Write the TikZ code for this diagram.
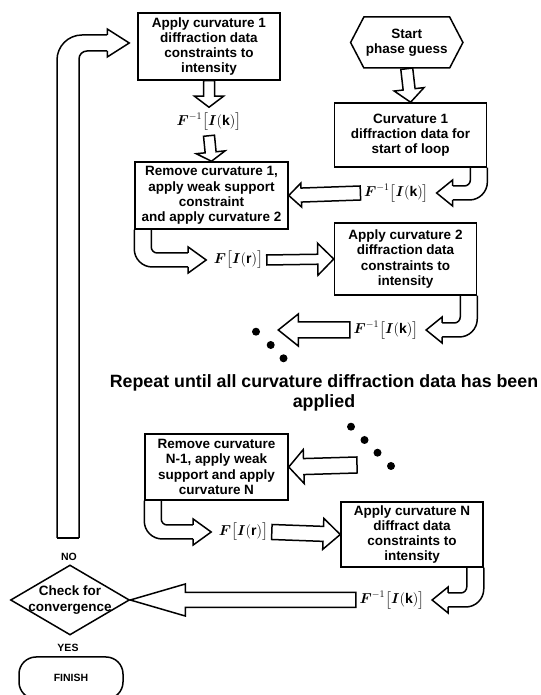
\documentclass[tikz,border=0pt]{standalone}
\usepackage{amsmath}
\usepackage{fontspec}
\setmainfont{Liberation Sans}
\usepackage{tikz}
\usetikzlibrary{calc,shapes.geometric,shapes.symbols}

\newcommand{\blockarrow}[5]{%
  \coordinate (ba) at ($(#2)!#5!(#1)$);
  \draw[fill=white] ($(#1)!#3!90:(#2)$) -- ($(ba)!#3!90:(#2)$) -- ($(ba)!#4!90:(#2)$) -- (#2)
    -- ($(ba)!#4!-90:(#2)$) -- ($(ba)!#3!-90:(#2)$) -- ($(#1)!#3!-90:(#2)$) -- cycle;
}
\newcommand{\hookleft}[2]{%
  \draw[rounded corners=18pt] (#1.south east) -- ($(#1.south east |- #2.east)+(0,-7)$) -- ($(#2.east)+(20,-7)$);
  \draw[rounded corners=6pt] ($(#2.east)+(20,7)$) -- ($(#1.south east |- #2.east)+(-17,7)$) -- ($(#1.south east)+(-17,0)$);
  \draw[fill=white] ($(#2.east)+(20,-7)$) -- ++(0,-6) -- ($(#2.east)+(4,0)$) -- ($(#2.east)+(20,13)$) -- ++(0,-6);
}
\newcommand{\hookright}[2]{%
  \draw[rounded corners=18pt] (#1.south west) -- ($(#1.south west |- #2.west)+(0,-7)$) -- ($(#2.west)+(-22,-7)$);
  \draw[rounded corners=6pt] ($(#2.west)+(-22,7)$) -- ($(#1.south west |- #2.west)+(17,7)$) -- ($(#1.south west)+(17,0)$);
  \draw[fill=white] ($(#2.west)+(-22,-7)$) -- ++(0,-6) -- ($(#2.west)+(-4,0)$) -- ($(#2.west)+(-22,13)$) -- ++(0,-6);
}

\begin{document}
\begin{tikzpicture}[x=1pt, y=1pt, line width=1.5pt,
  box/.style={draw, align=center, inner sep=2pt, font=\bfseries\fontsize{13.5}{15.3}\selectfont},
  lbl/.style={inner xsep=3pt, inner ysep=0pt, minimum height=27pt, font=\fontsize{14}{16}\selectfont},
  small/.style={font=\bfseries\fontsize{10.5}{12}\selectfont}]
  \useasboundingbox (0,0) rectangle (540,695);
  \fill[white] (0,0) rectangle (540,695);

  \node[box, minimum width=142pt, minimum height=67pt] (apply1) at (209,648.5) {Apply curvature 1\\diffraction data\\constraints to\\intensity};
  \node[box, shape=signal, signal to=west and east, signal pointer angle=125, minimum width=111.5pt, minimum height=51pt] (start) at (406.75,652.5) {Start\\phase guess};
  \node[box, minimum width=152pt, minimum height=64pt] (curv1) at (410.6,560) {Curvature 1\\diffraction data for\\start of loop};
  \node[box, minimum width=153pt, minimum height=67pt] (remove1) at (211.5,499.5) {Remove curvature 1,\\apply weak support\\constraint\\and apply curvature 2};
  \node[box, minimum width=142pt, minimum height=72pt] (apply2) at (405.5,436) {Apply curvature 2\\diffraction data\\constraints to\\intensity};
  \node[box, minimum width=143pt, minimum height=66pt] (removeN) at (216.5,228) {Remove curvature\\N-1, apply weak\\support and apply\\curvature N};
  \node[box, minimum width=142pt, minimum height=65pt] (applyN) at (412,160.5) {Apply curvature N\\diffract data\\constraints to\\intensity};
  \node[box, shape=diamond, minimum width=119pt, minimum height=70pt, inner sep=0pt] (check) at (70,95) {\makebox[0pt]{Check for}\\\makebox[0pt]{convergence}};
  \node[box, small, rounded corners=17pt, minimum width=104pt, minimum height=42pt] (finish) at (71,17) {FINISH};

  \node[lbl] (inv1) at (209,573.5) {$\boldsymbol{F}^{-1}\bigl[\boldsymbol{I}(\mathbf{k})\bigr]$};
  \node[lbl] (inv2) at (396.5,502) {$\boldsymbol{F}^{-1}\bigl[\boldsymbol{I}(\mathbf{k})\bigr]$};
  \node[lbl] (fwd1) at (238.5,435) {$\boldsymbol{F}\bigl[\boldsymbol{I}(\mathbf{r})\bigr]$};
  \node[lbl] (inv3) at (386,365) {$\boldsymbol{F}^{-1}\bigl[\boldsymbol{I}(\mathbf{k})\bigr]$};
  \node[lbl] (fwd2) at (243.5,163) {$\boldsymbol{F}\bigl[\boldsymbol{I}(\mathbf{r})\bigr]$};
  \node[lbl] (inv4) at (392,95) {$\boldsymbol{F}^{-1}\bigl[\boldsymbol{I}(\mathbf{k})\bigr]$};
  \node[small] (no) at (69,138.3) {NO};
  \node[small] (yes) at (68,47.3) {YES};
  \node[font=\bfseries\fontsize{17.8}{20}\selectfont, align=center] (repeat) at (324,301.7) {Repeat until all curvature diffraction data has been\\applied};

  \foreach \p in {(256,363.3),(270.7,350),(283.5,336.7),(351,268.3),(364.5,255),(377.5,242.3),(391,229)}
    \fill \p circle (4pt);
  \coordinate (dotsin) at (278.3,365);
  \coordinate (dotsout) at (357,230);
  \coordinate (loop) at (68,157);

  \blockarrow{start.south}{curv1.north}{6pt}{15pt}{13pt}
  \blockarrow{apply1.south}{inv1.north}{5.5pt}{14.5pt}{11pt}
  \blockarrow{inv1.south}{remove1.north}{5.5pt}{14.5pt}{9pt}
  \blockarrow{inv2.west}{remove1.east}{7pt}{12pt}{12.5pt}
  \blockarrow{fwd1.east}{apply2.west}{5pt}{16pt}{16pt}
  \blockarrow{inv3.west}{dotsin}{8pt}{16pt}{20pt}
  \blockarrow{dotsout}{removeN.east}{8pt}{17pt}{15pt}
  \blockarrow{fwd2.east}{applyN.west}{7.5pt}{15.5pt}{17pt}
  \blockarrow{inv4.west}{check.east}{7.5pt}{16pt}{55pt}

  \hookleft{curv1}{inv2}
  \hookleft{apply2}{inv3}
  \hookleft{applyN}{inv4}
  \hookright{remove1}{fwd1}
  \hookright{removeN}{fwd2}

  \draw (loop) ++(-11,0) -- ++(22,0);
  \draw[rounded corners=25pt] ($(loop)+(-11,0)$) |- ($(apply1.west)+(-30,11.5)$);
  \draw[rounded corners=8pt] ($(apply1.west)+(-30,-4.5)$) -| ($(loop)+(11,0)$);
  \draw[fill=white] ($(apply1.west)+(-30,11.5)$) -- ++(0,6) -- ($(apply1.west)+(-8,3.5)$) -- ($(apply1.west)+(-30,-10.5)$) -- ++(0,6);
\end{tikzpicture}
\end{document}
